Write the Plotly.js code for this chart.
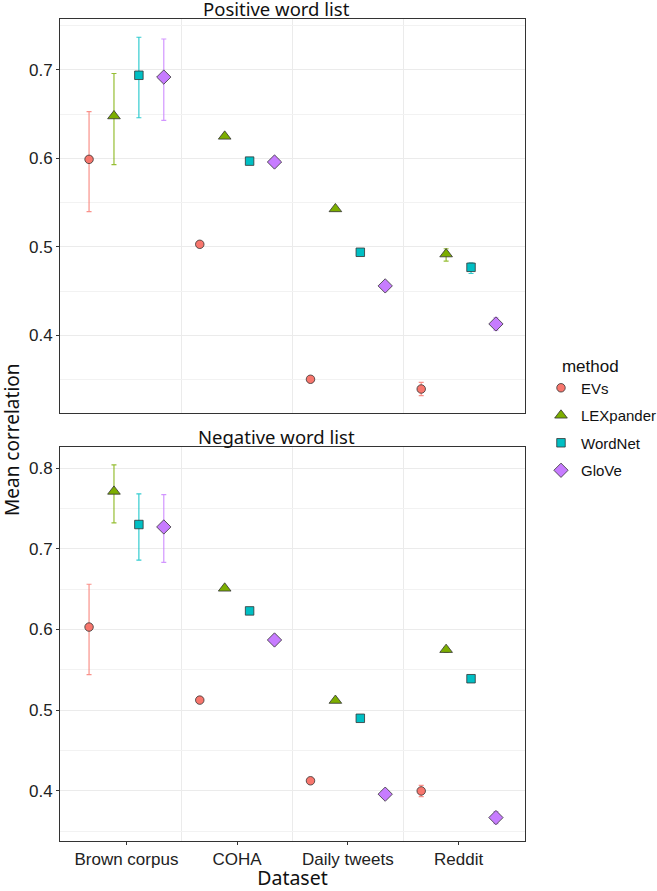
<!DOCTYPE html>
<html>
<head>
<meta charset="utf-8">
<script src="https://cdn.plot.ly/plotly-3.0.1.min.js"></script>
<style>
  html, body { margin: 0; padding: 0; background: #fff; }
  #graph { width: 657px; height: 891px; }
</style>
</head>
<body>
<div id="graph"></div>
<script>
let datasets = ["Brown corpus", "COHA", "Daily tweets", "Reddit"];
let methods = ["EVs", "LEXpander", "WordNet", "GloVe"];
let colors = ["#F8766D", "#7CAE00", "#00BFC4", "#C77CFF"];
let symbols = ["circle", "triangle-up", "square", "diamond"];
let sizes = [8.5, 11, 8.5, 11];

// positive word list: mean, upper, lower (per method, per dataset)
let posEVs = [0.599, 0.503, 0.3505, 0.3395];
let posEVsHi = [0.653, 0.506, 0.353, 0.347];
let posEVsLo = [0.540, 0.500, 0.348, 0.332];
let posLEX = [0.648, 0.625, 0.543, 0.492];
let posLEXHi = [0.696, 0.627, 0.545, 0.498];
let posLEXLo = [0.593, 0.623, 0.541, 0.484];
let posWN = [0.694, 0.597, 0.494, 0.477];
let posWNHi = [0.737, 0.599, 0.496, 0.482];
let posWNLo = [0.646, 0.595, 0.492, 0.470];
let posGV = [0.692, 0.596, 0.456, 0.413];
let posGVHi = [0.735, 0.598, 0.458, 0.420];
let posGVLo = [0.643, 0.594, 0.454, 0.406];

// negative word list
let negEVs = [0.603, 0.5125, 0.4126, 0.400];
let negEVsHi = [0.656, 0.515, 0.415, 0.407];
let negEVsLo = [0.544, 0.510, 0.410, 0.393];
let negLEX = [0.771, 0.651, 0.512, 0.575];
let negLEXHi = [0.804, 0.653, 0.514, 0.578];
let negLEXLo = [0.732, 0.649, 0.510, 0.572];
let negWN = [0.730, 0.623, 0.490, 0.539];
let negWNHi = [0.768, 0.625, 0.492, 0.543];
let negWNLo = [0.686, 0.621, 0.488, 0.535];
let negGV = [0.727, 0.587, 0.396, 0.367];
let negGVHi = [0.767, 0.589, 0.398, 0.3745];
let negGVLo = [0.683, 0.585, 0.394, 0.3595];

let pos = [[posEVs, posEVsHi, posEVsLo], [posLEX, posLEXHi, posLEXLo],
           [posWN, posWNHi, posWNLo], [posGV, posGVHi, posGVLo]];
let neg = [[negEVs, negEVsHi, negEVsLo], [negLEX, negLEXHi, negLEXLo],
           [negWN, negWNHi, negWNLo], [negGV, negGVHi, negGVLo]];

// dodge width 0.9 split across 4 methods
let dodge = [-0.3375, -0.1125, 0.1125, 0.3375];

function fade(hex, a) {
    let r = parseInt(hex.slice(1, 3), 16), g = parseInt(hex.slice(3, 5), 16), b = parseInt(hex.slice(5, 7), 16);
    return "rgba(" + r + "," + g + "," + b + "," + a + ")";
}

let data = [];
function addPanel(vals, xa, ya, showLegend) {
    for (let j = 0; j < methods.length; j++) {
        let mean = vals[j][0], hi = vals[j][1], lo = vals[j][2];
        data.push({
            x: datasets.map((d, i) => i + 1 + dodge[j]),
            y: mean,
            xaxis: xa, yaxis: ya,
            type: "scatter", mode: "markers",
            name: methods[j], legendgroup: methods[j], showlegend: showLegend,
            marker: { color: colors[j], symbol: symbols[j], size: sizes[j],
                      line: { color: "#333333", width: 0.8 } },
            error_y: { type: "data", symmetric: false,
                       array: hi.map((h, i) => h - mean[i]),
                       arrayminus: lo.map((l, i) => mean[i] - l),
                       color: fade(colors[j], 0.8), thickness: 1.2, width: 2.5 },
            hoverinfo: "x+y"
        });
    }
}
addPanel(pos, "x2", "y2", true);
addPanel(neg, "x", "y", false);

let tickFont = { family: "Liberation Sans, Arial, sans-serif", size: 17, color: "#222" };
let xBase = {
    range: [0.4, 4.6], tickvals: [1, 2, 3, 4], ticktext: datasets,
    showgrid: false, zeroline: false,
    showline: true, mirror: true, linecolor: "#333", linewidth: 1,
    ticks: "outside", ticklen: 3, tickcolor: "#333",
    minor: { tickvals: [1.5, 2.5, 3.5], showgrid: true, gridcolor: "#ebebeb", gridwidth: 1.2, ticks: "" },
    tickfont: tickFont
};
let yBase = {
    dtick: 0.1, showgrid: true, gridcolor: "#ebebeb", gridwidth: 1.2, zeroline: false,
    showline: true, mirror: true, linecolor: "#333", linewidth: 1,
    ticks: "outside", ticklen: 3, tickcolor: "#333",
    minor: { dtick: 0.05, showgrid: true, gridcolor: "#f2f2f2", gridwidth: 1 },
    tickfont: tickFont
};

let titleFont = { family: "Noto Sans, Open Sans, sans-serif", size: 18.5, color: "#111" };

let layout = {
    width: 657, height: 891,
    paper_bgcolor: "#fff", plot_bgcolor: "#fff",
    margin: { l: 60, r: 132, t: 19, b: 50, autoexpand: false },
    showlegend: true,
    xaxis: Object.assign({}, xBase, { anchor: "y",
        title: { text: "Dataset", font: { family: "Noto Sans, Open Sans, sans-serif", size: 19.5, color: "#111" }, standoff: 4 } }),
    xaxis2: Object.assign({}, xBase, { anchor: "y2", showticklabels: false, ticks: "" }),
    yaxis: Object.assign({}, yBase, { domain: [0, 0.4793], range: [0.338, 0.826] }),
    yaxis2: Object.assign({}, yBase, { domain: [0.5207, 1], range: [0.3124, 0.7576] }),
    legend: {
        x: 1.0344, xanchor: "left", y: 0.598, yanchor: "top",
        title: { text: "\u00a0\u00a0\u00a0\u00a0method", font: { family: "Liberation Sans, Arial, sans-serif", size: 17, color: "#111" } },
        font: { family: "Liberation Sans, Arial, sans-serif", size: 15, color: "#111" },
        tracegroupgap: 5, itemwidth: 30
    },
    annotations: [
        { text: "Positive word list", xref: "paper", yref: "paper", x: 0.465, y: 1, yanchor: "bottom",
          showarrow: false, font: titleFont, yshift: -4 },
        { text: "Negative word list", xref: "paper", yref: "paper", x: 0.465, y: 0.4793, yanchor: "bottom",
          showarrow: false, font: titleFont, yshift: -4 },
        { text: "Mean correlation", xref: "paper", yref: "paper", x: -0.103, y: 0.488,
          xanchor: "center", yanchor: "middle", textangle: -90, showarrow: false,
          font: { family: "Noto Sans, Open Sans, sans-serif", size: 19, color: "#111" } }
    ]
};

Plotly.newPlot("graph", data, layout, { displayModeBar: false });
</script>
</body>
</html>
